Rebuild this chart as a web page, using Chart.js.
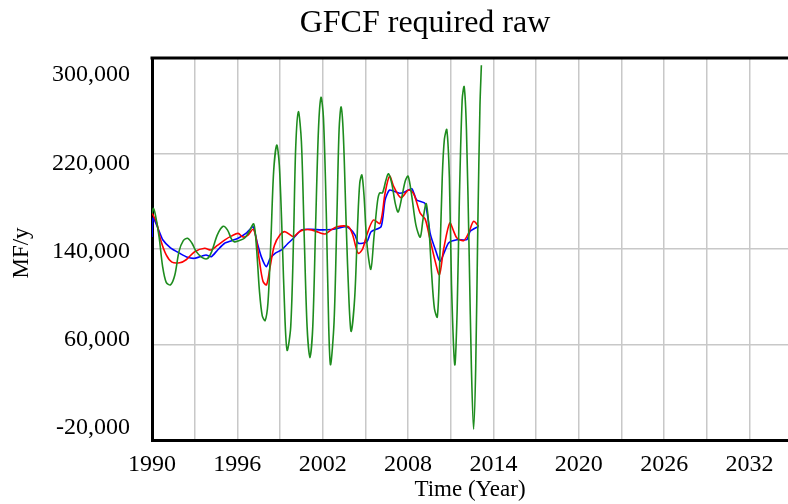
<!DOCTYPE html>
<html>
<head>
<meta charset="utf-8">
<script src="https://cdn.jsdelivr.net/npm/chart.js@4"></script>
<style>
html,body{margin:0;padding:0;background:#fff;overflow:hidden;}
canvas{display:block;}
</style>
</head>
<body>
<canvas id="c" width="788" height="504"></canvas>
<script>
// ---- data ----
const chartTitle = "GFCF required raw";
const xAxisTitle = "Time (Year)";
const yAxisTitle = "MF/y";
const xTickValues = [1990,1993,1996,1999,2002,2005,2008,2011,2014,2017,2020,2023,2026,2029,2032];
const xLabelYears = [1990,1996,2002,2008,2014,2020,2026,2032];
const yTickValues = [-20000,60000,140000,220000,300000];

const greenYears = [1990.0,1990.1,1990.25,1990.5,1990.75,1991.0,1991.3,1991.6,1991.9,1992.2,1992.5,1992.8,1993.1,1993.5,1993.9,1994.2,1994.6,1995.0,1995.3,1995.6,1995.8,1996.1,1996.5,1996.8,1997.15,1997.35,1997.55,1997.75,1997.95,1998.15,1998.35,1998.55,1998.77,1998.95,1999.15,1999.35,1999.5,1999.75,1999.95,2000.1,2000.29,2000.5,2000.7,2000.9,2001.1,2001.3,2001.5,2001.7,2001.88,2002.05,2002.25,2002.42,2002.55,2002.8,2003.0,2003.15,2003.29,2003.45,2003.65,2003.85,2004.0,2004.25,2004.45,2004.6,2004.75,2004.9,2005.1,2005.38,2005.6,2005.85,2006.0,2006.2,2006.45,2006.62,2006.85,2007.1,2007.3,2007.55,2007.8,2008.0,2008.25,2008.55,2008.85,2009.05,2009.27,2009.45,2009.65,2009.85,2010.05,2010.2,2010.4,2010.55,2010.72,2010.9,2011.05,2011.28,2011.45,2011.6,2011.8,2011.94,2012.1,2012.3,2012.45,2012.6,2012.75,2012.9,2013.05,2013.15];
const greenValues = [170000,174000,168000,150000,125000,112000,110000,118000,138000,147000,149000,145000,138000,133000,132000,138000,152000,159000,156000,148000,146000,147000,149000,154000,161000,140000,105000,84000,80000,95000,145000,205000,227000,210000,150000,80000,55000,75000,150000,225000,255000,230000,150000,75000,49000,75000,160000,240000,267000,250000,170000,75000,43000,80000,170000,240000,259000,235000,160000,95000,71000,100000,160000,195000,202000,185000,145000,123000,150000,180000,187000,187000,198000,203000,195000,178000,171000,183000,197000,201000,185000,160000,150000,165000,178000,160000,120000,90000,83000,120000,200000,232000,240000,200000,110000,43000,90000,180000,265000,276000,240000,130000,40000,-11000,40000,160000,260000,294000];

const redYears = [1990.0,1990.3,1990.6,1991.0,1991.4,1991.95,1992.4,1993.0,1993.7,1994.15,1994.6,1995.1,1995.6,1996.05,1996.4,1996.75,1997.1,1997.3,1997.55,1997.8,1998.05,1998.3,1998.6,1999.0,1999.35,1999.94,2000.3,2000.64,2001.2,2001.7,2002.17,2002.6,2003.0,2003.8,2004.1,2004.3,2004.5,2004.8,2005.1,2005.56,2006.03,2006.38,2006.7,2007.0,2007.5,2008.03,2008.4,2008.85,2009.2,2009.5,2009.9,2010.2,2010.5,2010.93,2011.2,2011.43,2011.9,2012.25,2012.6,2012.95];
const redValues = [170000,163000,148000,135000,129000,128500,131000,137700,140600,139200,143000,147500,151000,153100,150000,151700,156500,150000,130000,113000,110000,125000,143000,152000,154500,150300,154000,156000,156000,154000,152600,156000,158700,158700,152000,143000,136400,140000,152000,164300,161500,186700,201000,192000,183000,189500,186000,170000,165000,150300,130000,118500,140000,161800,155000,149200,147000,153400,163200,159000];

const blueYears = [1990.0,1990.08,1990.4,1990.77,1991.3,1991.95,1992.5,1993.0,1993.5,1993.8,1994.17,1994.6,1995.1,1995.6,1996.05,1996.6,1997.1,1997.4,1997.7,1998.04,1998.3,1998.65,1999.1,1999.5,1999.94,2000.5,2001.2,2001.9,2002.6,2003.1,2003.57,2003.9,2004.27,2004.5,2005.1,2005.4,2006.1,2006.38,2006.7,2007.4,2007.8,2008.26,2008.6,2009.2,2009.55,2009.9,2010.25,2010.84,2011.43,2012.13,2012.36,2012.95];
const blueValues = [150000,166000,158000,147500,141000,136400,133000,132200,134000,135000,133600,139000,144800,147000,149000,153000,158700,145000,133000,125200,132000,136400,139200,144000,149000,156000,156500,156000,156300,157500,158700,157000,151700,144800,146000,154500,158700,181000,189400,186700,188000,190500,181000,178000,153100,140000,129700,145000,147800,147800,154800,159000];

// ---- build ----
function pts(xs, ys){ return xs.map((x,i)=>({x:x, y:ys[i]})); }
const serif = "'Liberation Serif','Times New Roman',serif";

const decor = {
  id: 'decor',
  afterDraw(chart){
    const ctx = chart.ctx, ca = chart.chartArea;
    ctx.save();
    // top frame line
    ctx.strokeStyle = '#000'; ctx.lineWidth = 3;
    ctx.beginPath(); ctx.moveTo(ca.left - 1.5, ca.top); ctx.lineTo(ca.right, ca.top); ctx.stroke();
    // y tick labels (Vensim style spacing inside the frame)
    const ys = chart.scales.y;
    const sorted = yTickValues.slice().sort((a,b)=>b-a);
    const yTop = ys.getPixelForValue(sorted[0]) + 17;
    const yBot = ys.getPixelForValue(sorted[sorted.length-1]) - 12;
    ctx.fillStyle = '#000';
    ctx.font = '24px ' + serif;
    ctx.textAlign = 'right'; ctx.textBaseline = 'middle';
    sorted.forEach((v,i)=>{
      const y = yTop + (yBot - yTop) * i / (sorted.length - 1);
      ctx.fillText(v.toLocaleString('en-US'), ca.left - 22, y);
    });
    // y axis title
    ctx.save();
    ctx.translate(22, (ca.top + ca.bottom) / 2 + 4);
    ctx.rotate(-Math.PI/2);
    ctx.textAlign = 'center'; ctx.textBaseline = 'middle';
    ctx.font = '23px ' + serif;
    ctx.fillText(yAxisTitle, 0, 0);
    ctx.restore();
    // main title
    ctx.textAlign = 'center'; ctx.textBaseline = 'alphabetic';
    ctx.font = '32px ' + serif;
    ctx.fillText(chartTitle, 425, 32);
    ctx.restore();
  }
};

new Chart(document.getElementById('c'), {
  type: 'line',
  data: {
    datasets: [
      { label: 'raw', data: pts(greenYears, greenValues), borderColor: '#1e8c1e', borderWidth: 1.6, pointRadius: 0, tension: 0.3, fill: false },
      { label: 'smoothed', data: pts(redYears, redValues), borderColor: '#ff0000', borderWidth: 1.6, pointRadius: 0, tension: 0.3, fill: false },
      { label: 'trend', data: pts(blueYears, blueValues), borderColor: '#0000ff', borderWidth: 1.6, pointRadius: 0, tension: 0.2, fill: false }
    ]
  },
  options: {
    responsive: false,
    animation: false,
    devicePixelRatio: 1,
    layout: { padding: { top: 58, left: 0, right: 0, bottom: 0 } },
    plugins: { legend: { display: false }, tooltip: { enabled: false }, title: { display: false } },
    scales: {
      x: {
        type: 'linear', min: 1990, max: 2034.7,
        afterBuildTicks: s => { s.ticks = xTickValues.map(v => ({ value: v })); },
        afterFit: s => { s.height = 64; },
        ticks: {
          autoSkip: false, maxRotation: 0, padding: 10, color: '#000',
          font: { family: serif, size: 24 },
          callback: v => xLabelYears.includes(v) ? String(v) : ''
        },
        grid: { color: '#c8c8c8', lineWidth: 1.5, drawTicks: false },
        border: { display: true, color: '#000', width: 3 },
        title: { display: true, text: xAxisTitle, color: '#000', font: { family: serif, size: 23 }, padding: { top: 3, bottom: 0 } }
      },
      y: {
        min: -20000, max: 300000,
        afterBuildTicks: s => { s.ticks = yTickValues.map(v => ({ value: v })); },
        afterFit: s => { s.width = 152; },
        ticks: { display: false },
        grid: { color: '#c8c8c8', lineWidth: 1.5, drawTicks: false },
        border: { display: true, color: '#000', width: 3 }
      }
    }
  },
  plugins: [decor]
});
</script>
</body>
</html>
